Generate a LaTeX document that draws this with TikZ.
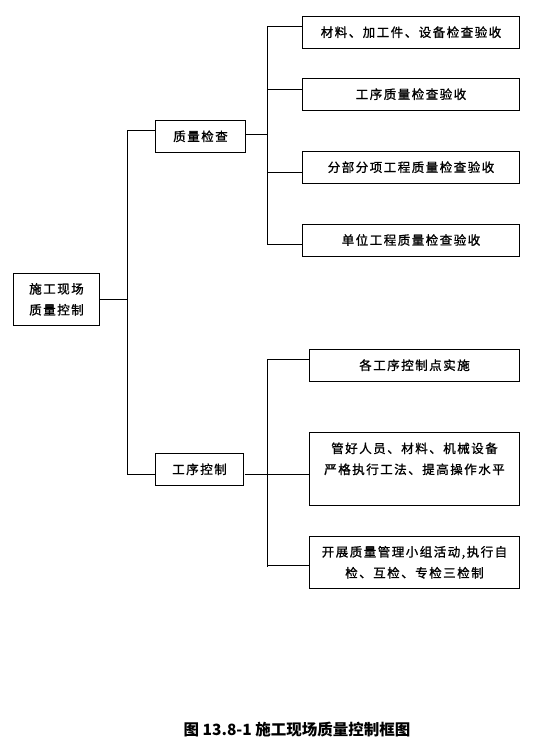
\documentclass[tikz,border=0pt]{standalone}
\usepackage{fontspec}
\setmainfont{Noto Sans CJK SC}
\newfontfamily\kastenfont[LetterSpace=12,FakeBold=1.2]{Noto Sans CJK SC}

\begin{document}
\begin{tikzpicture}[x=1pt,y=-1pt,
  kasten/.style={draw,line width=0.9pt,inner sep=0pt,align=center,
    font=\kastenfont\fontsize{12.5}{21}\selectfont},
  linie/.style={line width=0.9pt}]

\useasboundingbox (0,0) rectangle (539,749);

% Wurzel und mittlere Ebene
\node[kasten,minimum width=86.3pt,minimum height=52pt] (wurzel) at (56.5,299.3) {施工现场\\质量控制};
\node[kasten,minimum width=90.4pt,minimum height=32pt] (qc) at (200.5,136.3) {质量检查};
\node[kasten,minimum width=88.3pt,minimum height=32pt] (pc) at (199.5,469.3) {工序控制};

% Kaesten rechts oben
\node[kasten,minimum width=217.2pt,minimum height=32.3pt] (a1) at (411,32.2) {材料、加工件、设备检查验收};
\node[kasten,minimum width=217.2pt,minimum height=31.7pt] (a2) at (411,94.2) {工序质量检查验收};
\node[kasten,minimum width=217.2pt,minimum height=32.3pt] (a3) at (411,167.2) {分部分项工程质量检查验收};
\node[kasten,minimum width=217.2pt,minimum height=32pt] (a4) at (411,240) {单位工程质量检查验收};

% Kaesten rechts unten
\node[kasten,minimum width=210.3pt,minimum height=31.7pt] (b1) at (414.5,365.2) {各工序控制点实施};
\node[kasten,minimum width=210.3pt,minimum height=73pt] (b2) at (414.5,468.8) {管好人员、材料、机械设备\\严格执行工法、提高操作水平\\\mbox{}};
\node[kasten,minimum width=210.3pt,minimum height=52pt] (b3) at (414.5,562.3) {开展质量管理小组活动,执行自\\检、互检、专检三检制};

% Stamm
\coordinate (stamm) at (127.8,0);
\coordinate (qcin) at ([yshift=6pt]qc.west);
\coordinate (pcin) at ([yshift=-5pt]pc.west);
\draw[linie] (wurzel.east) -- (wurzel.east -| stamm);
\draw[linie] (qcin) -| (stamm |- pcin) -- (pcin);

% Aeste oben
\coordinate (ast) at (267.4,0);
\draw[linie] ([yshift=1.6pt]qc.east) -- ([yshift=1.6pt]qc.east -| ast);
\foreach \n/\d in {a1/6,a2/5,a3/-5.5,a4/-4.3} {
  \coordinate (\n-in) at ([yshift=\d pt]\n.west);
  \draw[linie] (\n-in) -- (\n-in -| ast);
}
\draw[linie] (a1-in -| ast) -- (a4-in -| ast);

% Aeste unten
\coordinate (b1-in) at ([yshift=5.9pt]b1.west);
\coordinate (b3-in) at ([yshift=-2.7pt]b3.west);
\coordinate (ende) at ([yshift=-1.7pt]b3-in -| ast);
\draw[linie] ([xshift=0.5pt]pc.east |- pcin) -- (pcin -| b2.west);
\draw[linie] (b1-in) -- (b1-in -| ast) -- (ende);
\draw[linie] (b3-in) -- (b3-in -| ast);

% Bildunterschrift
\node[font=\fontsize{15.5}{18}\selectfont\bfseries] (titel) at (297,730) {图 13.8-1 施工现场质量控制框图};

\end{tikzpicture}
\end{document}
